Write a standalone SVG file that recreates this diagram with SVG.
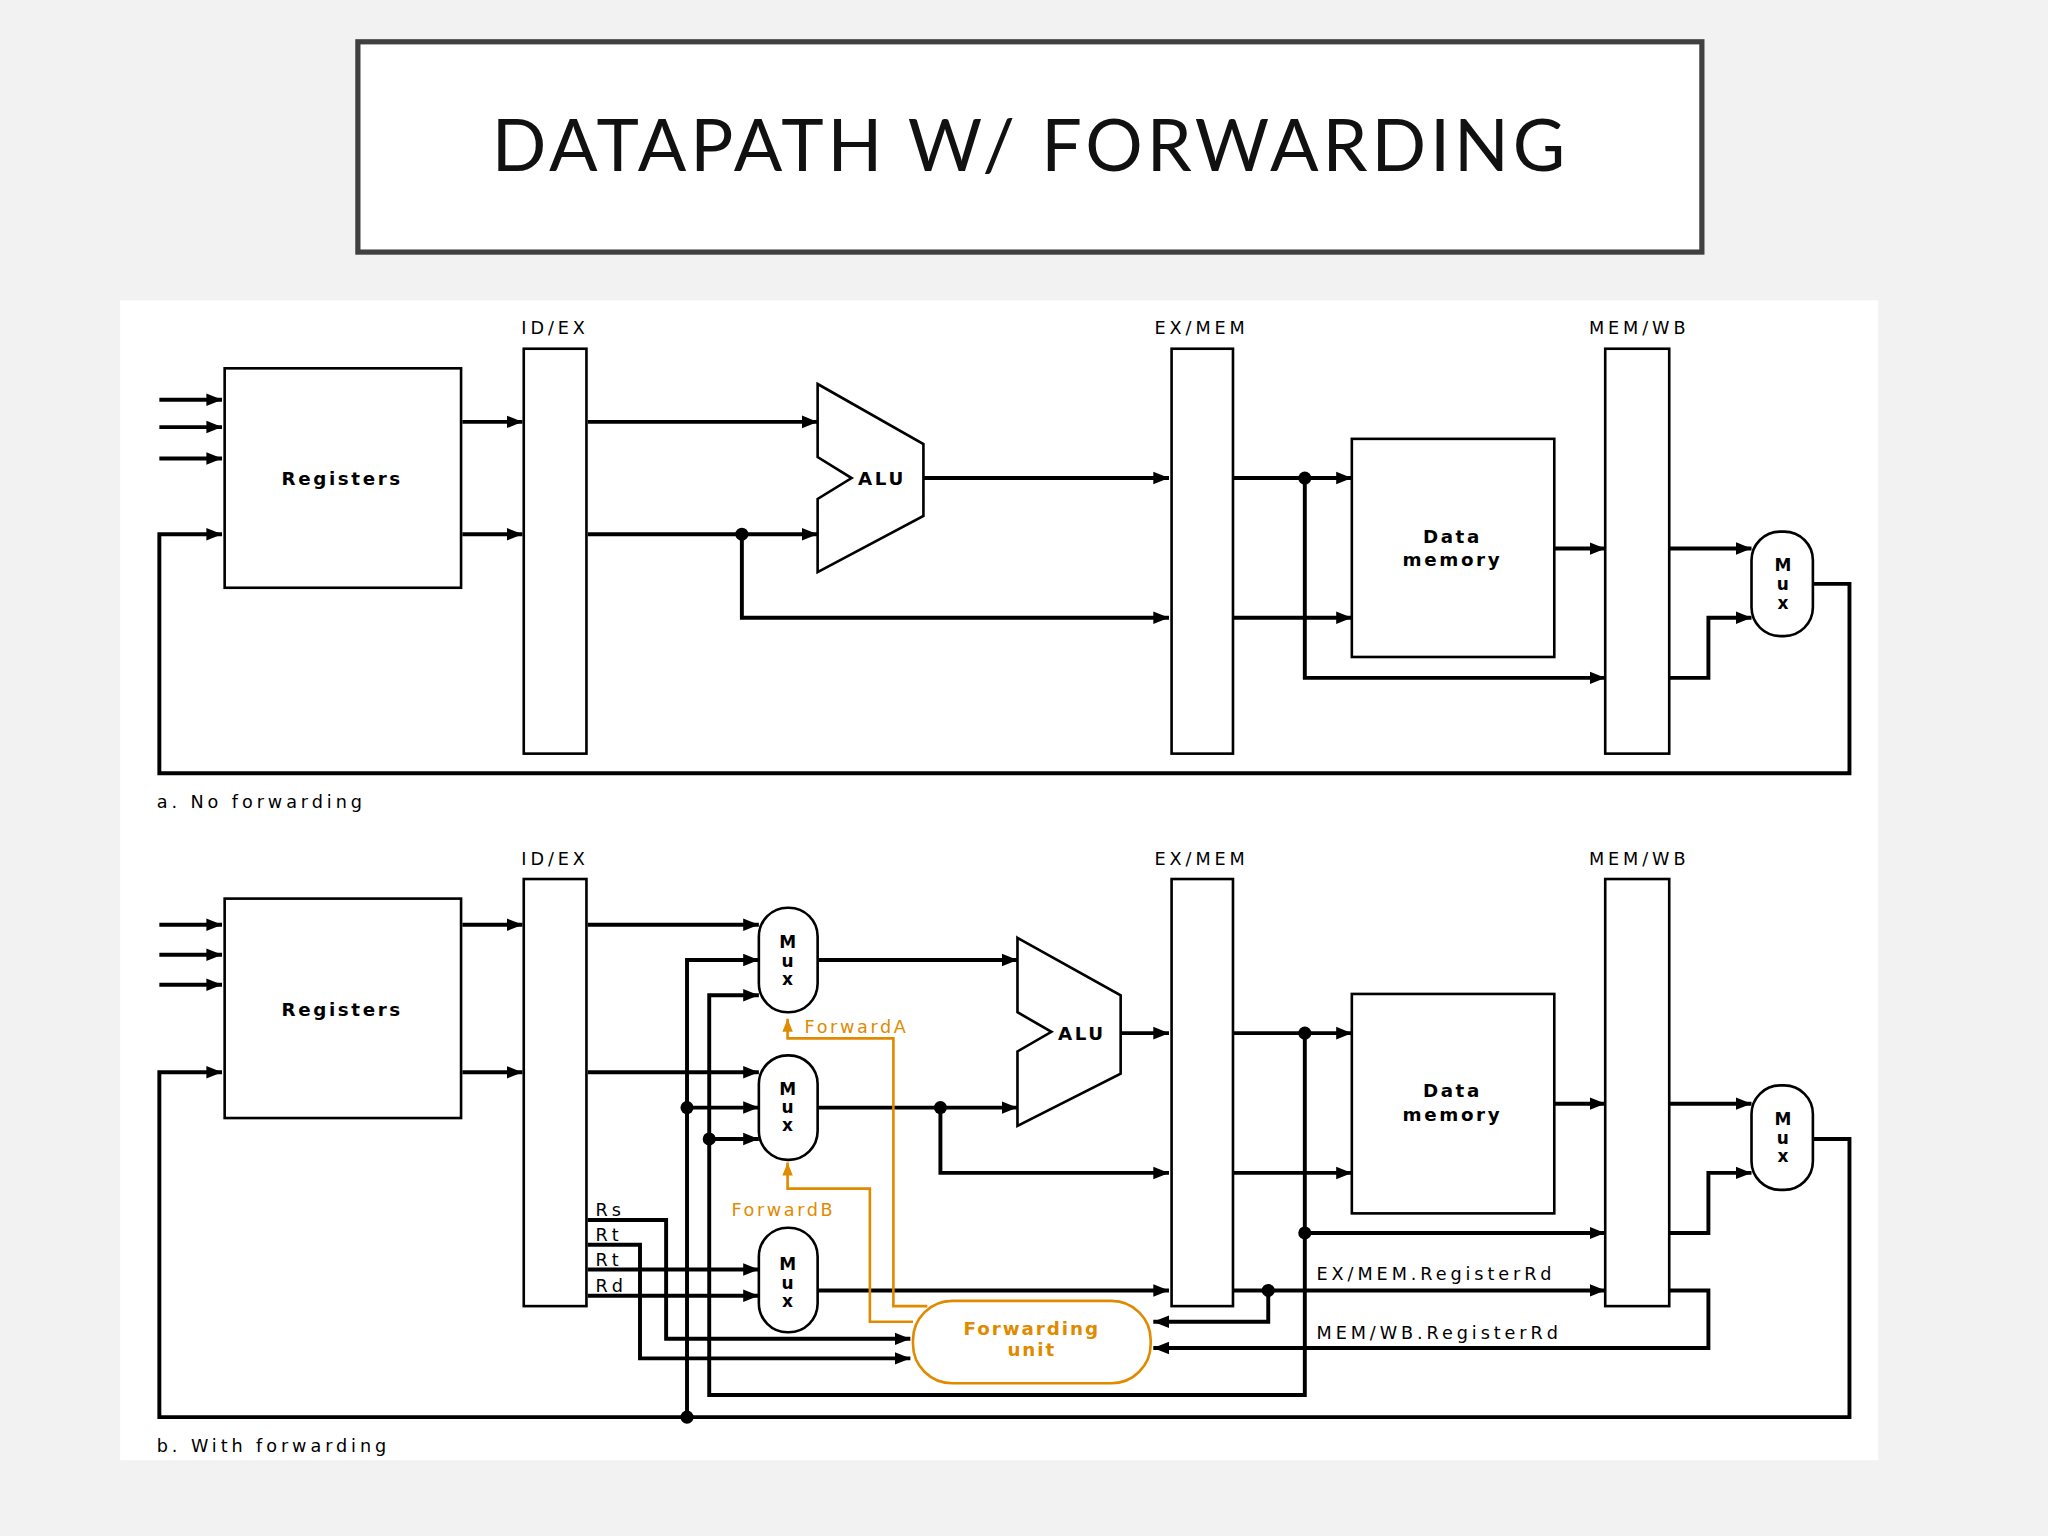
<svg xmlns="http://www.w3.org/2000/svg" width="2048" height="1536" viewBox="0 0 2048 1536">
<defs>
<marker id="ar" viewBox="0 0 10 10" refX="10" refY="5" markerWidth="4" markerHeight="4" orient="auto"><path d="M0,1 L10,5 L0,9 z" fill="#000"/></marker>
<marker id="ao" viewBox="0 0 10 10" refX="10" refY="5" markerWidth="5" markerHeight="5" orient="auto"><path d="M0,1 L10,5 L0,9 z" fill="#e08a00"/></marker>
<style>
.w{fill:none;stroke:#000;stroke-width:3}
.a{marker-end:url(#ar)}
.o{fill:none;stroke:#e08a00;stroke-width:2}
.box{fill:#fff;stroke:#000;stroke-width:2}
.t{font-family:"DejaVu Sans",Verdana,sans-serif;font-size:13.5px;letter-spacing:3px;fill:#000}
.b{font-family:"DejaVu Sans",Verdana,sans-serif;font-size:14px;font-weight:bold;letter-spacing:2px;fill:#000}
.mx{font-family:"DejaVu Sans",Verdana,sans-serif;font-size:13px;font-weight:bold;fill:#000;text-anchor:middle}
.ot{font-family:"DejaVu Sans",Verdana,sans-serif;font-size:13.5px;letter-spacing:2px;fill:#e08a00}
.d{fill:#000}
</style>
</defs>
<rect width="2048" height="1536" fill="#f2f2f2"/>
<g transform="scale(1.30612)">
<g id="title">
<rect x="274" y="32" width="1029" height="161" fill="#fff" stroke="#404040" stroke-width="4"/>
<text x="789" y="131" text-anchor="middle" font-family="Lato,'Open Sans',sans-serif" font-size="55" letter-spacing="3" fill="#111">DATAPATH W/ FORWARDING</text>
</g>
<rect x="92" y="230" width="1346" height="888" fill="#fff"/>

<g id="connectors-a">
<path class="w a" d="M122,306H170"/><path class="w a" d="M122,327H170"/><path class="w a" d="M122,351H170"/>
<path class="w a" d="M1388,447H1416V592H122V409H170"/>
<path class="w a" d="M354,323H400"/><path class="w a" d="M354,409H400"/>
<path class="w a" d="M450,323H626"/>
<path class="w a" d="M450,409H626"/>
<path class="w a" d="M568,409V473H895"/>
<path class="w a" d="M707,366H895"/>
<path class="w a" d="M944,366H1035"/>
<path class="w a" d="M999,366V519H1229"/>
<path class="w a" d="M944,473H1035"/>
<path class="w a" d="M1190,420H1229"/>
<path class="w a" d="M1278,420H1341"/>
<path class="w a" d="M1278,519H1308V473H1341"/>
<circle class="d" cx="568" cy="409" r="5"/><circle class="d" cx="999" cy="366" r="5"/>
</g>
<g id="a-nodes">
<rect class="box" x="172" y="282" width="181" height="168"/><text class="b" x="262" y="371" text-anchor="middle">Registers</text>
<rect class="box" x="401" y="267" width="48" height="310"/>
<rect class="box" x="897" y="267" width="47" height="310"/>
<rect class="box" x="1229" y="267" width="49" height="310"/>
<rect class="box" x="1035" y="336" width="155" height="167"/>
<text class="b" x="1112" y="416" text-anchor="middle">Data</text><text class="b" x="1112" y="433" text-anchor="middle">memory</text>
<path class="box" d="M626,294L707,340V395L626,438V382L652,366L626,350Z"/><text class="b" x="657" y="371">ALU</text>
<rect class="box" x="1341" y="407" width="47" height="80" rx="22"/>
<text class="mx" x="1365" y="437">M</text><text class="mx" x="1365" y="452">u</text><text class="mx" x="1365" y="466">x</text>
<text class="t" x="425" y="256" text-anchor="middle">ID/EX</text>
<text class="t" x="920" y="256" text-anchor="middle">EX/MEM</text>
<text class="t" x="1255" y="256" text-anchor="middle">MEM/WB</text>
<text class="t" x="120" y="619">a. No forwarding</text>
</g>

<g id="connectors-b">
<path class="w a" d="M122,708H170"/><path class="w a" d="M122,731H170"/><path class="w a" d="M122,754H170"/>
<path class="w a" d="M1388,872H1416V1085H122V821H170"/>
<path class="w a" d="M354,708H400"/><path class="w a" d="M354,821H400"/>
<path class="w a" d="M450,708H581"/>
<path class="w a" d="M450,821H581"/>
<path class="w a" d="M526,1085V735H581"/>
<path class="w a" d="M526,848H581"/>
<path class="w a" d="M999,791V1068H543V762H581"/>
<path class="w a" d="M543,872H581"/>
<path class="w a" d="M626,735H779"/>
<path class="w a" d="M626,848H779"/>
<path class="w a" d="M720,848V898H895"/>
<path class="w a" d="M858,791H895"/>
<path class="w a" d="M944,791H1035"/>
<path class="w a" d="M944,898H1035"/>
<path class="w a" d="M999,944H1229"/>
<path class="w a" d="M1190,845H1229"/>
<path class="w a" d="M1278,845H1341"/>
<path class="w a" d="M1278,944H1308V898H1341"/>
<path class="w a" d="M626,988H895"/>
<path class="w a" d="M944,988H1229"/>
<path class="w a" d="M971,988V1012H883"/>
<path class="w a" d="M1278,988H1308V1032H883"/>
<path class="w a" d="M450,934H510V1025H697"/>
<path class="w a" d="M450,953H490V1040H697"/>
<path class="w a" d="M450,972H581"/>
<path class="w a" d="M450,992H581"/>
<path class="o" d="M710,1000H684V795H603V780" marker-end="url(#ao)"/>
<path class="o" d="M699,1012H666V910H603V890" marker-end="url(#ao)"/>
<circle class="d" cx="526" cy="1085" r="5"/><circle class="d" cx="526" cy="848" r="5"/>
<circle class="d" cx="543" cy="872" r="5"/><circle class="d" cx="720" cy="848" r="5"/>
<circle class="d" cx="999" cy="791" r="5"/><circle class="d" cx="999" cy="944" r="5"/>
<circle class="d" cx="971" cy="988" r="5"/>
</g>
<g id="b-nodes">
<rect class="box" x="172" y="688" width="181" height="168"/><text class="b" x="262" y="778" text-anchor="middle">Registers</text>
<rect class="box" x="401" y="673" width="48" height="327"/>
<rect class="box" x="897" y="673" width="47" height="327"/>
<rect class="box" x="1229" y="673" width="49" height="327"/>
<rect class="box" x="1035" y="761" width="155" height="168"/>
<text class="b" x="1112" y="840" text-anchor="middle">Data</text><text class="b" x="1112" y="858" text-anchor="middle">memory</text>
<path class="box" d="M779,718L858,762V822L779,862V805L805,790L779,775Z"/><text class="b" x="810" y="796">ALU</text>
<rect class="box" x="581" y="695" width="45" height="80" rx="22"/>
<text class="mx" x="603" y="726">M</text><text class="mx" x="603" y="740">u</text><text class="mx" x="603" y="754">x</text>
<rect class="box" x="581" y="808" width="45" height="80" rx="22"/>
<text class="mx" x="603" y="838">M</text><text class="mx" x="603" y="852">u</text><text class="mx" x="603" y="866">x</text>
<rect class="box" x="581" y="940" width="45" height="80" rx="22"/>
<text class="mx" x="603" y="972">M</text><text class="mx" x="603" y="987">u</text><text class="mx" x="603" y="1001">x</text>
<rect class="box" x="1341" y="831" width="47" height="80" rx="22"/>
<text class="mx" x="1365" y="861">M</text><text class="mx" x="1365" y="876">u</text><text class="mx" x="1365" y="890">x</text>
<rect x="699" y="996" width="182" height="63" rx="30" fill="#fff" stroke="#e08a00" stroke-width="2"/>
<text x="790" y="1022" text-anchor="middle" font-family="DejaVu Sans,Verdana,sans-serif" font-size="14" font-weight="bold" letter-spacing="1.5" fill="#e08a00">Forwarding</text>
<text x="790" y="1038" text-anchor="middle" font-family="DejaVu Sans,Verdana,sans-serif" font-size="14" font-weight="bold" letter-spacing="1.5" fill="#e08a00">unit</text>
<text class="ot" x="616" y="791">ForwardA</text>
<text class="ot" x="560" y="931">ForwardB</text>
<text class="t" x="456" y="931" letter-spacing="1">Rs</text><text class="t" x="456" y="950" letter-spacing="1">Rt</text>
<text class="t" x="456" y="969" letter-spacing="1">Rt</text><text class="t" x="456" y="989" letter-spacing="1">Rd</text>
<text class="t" x="1008" y="980">EX/MEM.RegisterRd</text>
<text class="t" x="1008" y="1025">MEM/WB.RegisterRd</text>
<text class="t" x="425" y="662" text-anchor="middle">ID/EX</text>
<text class="t" x="920" y="662" text-anchor="middle">EX/MEM</text>
<text class="t" x="1255" y="662" text-anchor="middle">MEM/WB</text>
<text class="t" x="120" y="1112">b. With forwarding</text>
</g>
</g>
</svg>
